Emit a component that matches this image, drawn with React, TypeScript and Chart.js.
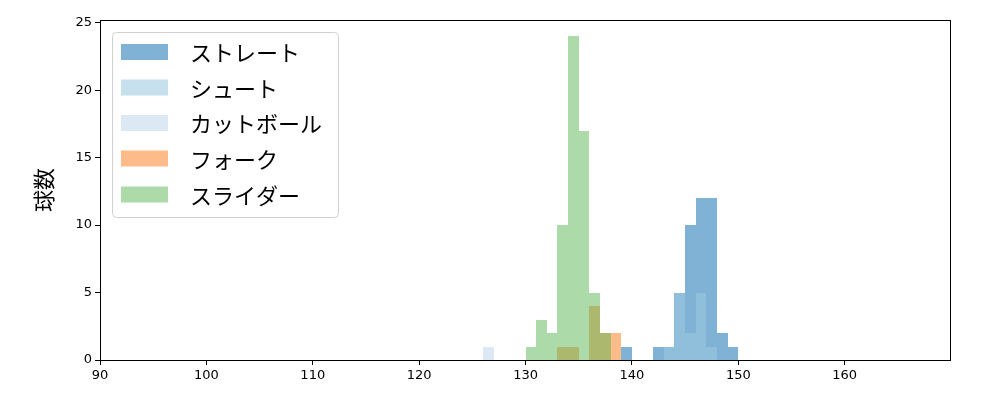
import React, { useEffect, useRef } from "react";
import { Chart, registerables } from "chart.js";

Chart.register(...registerables);

// Histogram bins (left edge of each 1 km/h bin) and counts per pitch type
const seriesLabels = ["ストレート", "シュート", "カットボール", "フォーク", "スライダー"];
const straightBins = [139, 142, 143, 144, 145, 146, 147, 148, 149];
const straightCounts = [1, 1, 1, 5, 10, 12, 12, 2, 1];
const shootBins = [143, 144, 145, 146, 147];
const shootCounts = [1, 5, 2, 5, 1];
const cutBins = [126];
const cutCounts = [1];
const forkBins = [133, 134, 136, 137, 138];
const forkCounts = [1, 1, 4, 2, 2];
const sliderBins = [130, 131, 132, 133, 134, 135, 136, 137];
const sliderCounts = [1, 3, 2, 10, 24, 17, 5, 2];
const xTickValues = [90, 100, 110, 120, 130, 140, 150, 160];
const yTickValues = [0, 5, 10, 15, 20, 25];
const seriesColors = [
  "rgba(1,101,173,0.5)",
  "rgba(157,202,226,0.58)",
  "rgba(185,209,231,0.5)",
  "rgba(251,119,21,0.5)",
  "rgba(89,181,83,0.5)",
];
const yTitle = "球数";
const xMin = 90;
const xMax = 169.9;
const yMax = 25.2;

const CJK = '"Noto Sans CJK JP", "Noto Sans", sans-serif';

const toPoints = (bins: number[], counts: number[]) =>
  bins.map((b, i) => ({ x: b + 0.5, y: counts[i] }));

// snap bar edges to whole pixels so adjacent translucent bars do not leave seams
const snapPlugin = {
  id: "snapBars",
  afterDatasetsUpdate(chart: any) {
    chart.data.datasets.forEach((_: any, di: number) => {
      const meta = chart.getDatasetMeta(di);
      meta.data.forEach((el: any) => {
        const l = Math.round(el.x - el.width / 2);
        const r = Math.round(el.x + el.width / 2);
        el.x = (l + r) / 2;
        el.width = r - l;
        el.y = Math.round(el.y);
        el.base = Math.round(el.base);
      });
    });
  },
};

const framePlugin = {
  id: "frameAndLegend",
  afterDraw(chart: any) {
    const { ctx, chartArea } = chart;
    const { left, right, top, bottom } = chartArea;
    ctx.save();
    // frame
    ctx.strokeStyle = "#000";
    ctx.lineWidth = 1;
    ctx.strokeRect(left + 0.5, top + 0.5, right - left, bottom - top);
    // y title
    ctx.save();
    ctx.translate(44, (top + bottom) / 2);
    ctx.rotate(-Math.PI / 2);
    ctx.font = `22px ${CJK}`;
    ctx.fillStyle = "#000";
    ctx.textAlign = "center";
    ctx.textBaseline = "middle";
    ctx.fillText(yTitle, 0, 0);
    ctx.restore();
    // legend
    const bx = 112.5, by = 32.5, bw = 226, bh = 185, r = 4;
    ctx.beginPath();
    ctx.moveTo(bx + r, by);
    ctx.lineTo(bx + bw - r, by);
    ctx.quadraticCurveTo(bx + bw, by, bx + bw, by + r);
    ctx.lineTo(bx + bw, by + bh - r);
    ctx.quadraticCurveTo(bx + bw, by + bh, bx + bw - r, by + bh);
    ctx.lineTo(bx + r, by + bh);
    ctx.quadraticCurveTo(bx, by + bh, bx, by + bh - r);
    ctx.lineTo(bx, by + r);
    ctx.quadraticCurveTo(bx, by, bx + r, by);
    ctx.closePath();
    ctx.fillStyle = "rgba(255,255,255,0.8)";
    ctx.fill();
    ctx.strokeStyle = "#d0d0d0";
    ctx.stroke();
    const rowY = [52, 87.5, 123, 158.5, 194.5];
    ctx.font = `22px ${CJK}`;
    ctx.textBaseline = "middle";
    ctx.textAlign = "left";
    seriesLabels.forEach((lab, i) => {
      ctx.fillStyle = seriesColors[i];
      ctx.fillRect(121, rowY[i] - 8, 47, 16);
      ctx.fillStyle = "#000";
      ctx.fillText(lab, 190, rowY[i] + 1);
    });
    ctx.restore();
  },
};

export default function App() {
  const ref = useRef<HTMLCanvasElement>(null);
  useEffect(() => {
    document.body.style.margin = "0";
    const datasets = [
      { data: toPoints(straightBins, straightCounts), order: 4 },
      { data: toPoints(shootBins, shootCounts), order: 3 },
      { data: toPoints(cutBins, cutCounts), order: 2 },
      { data: toPoints(forkBins, forkCounts), order: 1 },
      { data: toPoints(sliderBins, sliderCounts), order: 0 },
    ].map((d, i) => ({
      type: "bar" as const,
      label: seriesLabels[i],
      data: d.data,
      order: d.order,
      backgroundColor: seriesColors[i],
      borderWidth: 0,
      inflateAmount: 0,
      grouped: false,
      barPercentage: 1,
      categoryPercentage: 1,
    }));
    const chart = new Chart(ref.current!, {
      type: "bar",
      data: { datasets: datasets as any },
      options: {
        animation: false,
        responsive: false,
        maintainAspectRatio: false,
        layout: { padding: { left: 0, right: 50, top: 20, bottom: 0 } },
        plugins: { legend: { display: false }, tooltip: { enabled: false } },
        scales: {
          x: {
            type: "linear",
            min: xMin,
            max: xMax,
            offset: false,
            afterBuildTicks: (s: any) => {
              s.ticks = xTickValues.map((v) => ({ value: v }));
            },
            afterFit: (s: any) => {
              s.height = 40;
            },
            ticks: {
              color: "#000",
              padding: 3,
              maxRotation: 0,
              autoSkip: false,
              callback: (v: any) => String(v),
              font: { family: "DejaVu Sans", size: 13 },
            },
            grid: { offset: false, drawOnChartArea: false, drawTicks: true, tickLength: 5, color: "#000" },
            border: { display: true, color: "#000" },
          },
          y: {
            type: "linear",
            min: 0,
            max: yMax,
            afterBuildTicks: (s: any) => {
              s.ticks = yTickValues.map((v) => ({ value: v }));
            },
            afterFit: (s: any) => {
              s.width = 100;
            },
            ticks: {
              color: "#000",
              padding: 3,
              autoSkip: false,
              callback: (v: any) => String(v),
              font: { family: "DejaVu Sans", size: 13 },
            },
            grid: { offset: false, drawOnChartArea: false, drawTicks: true, tickLength: 5, color: "#000" },
            border: { display: true, color: "#000" },
          },
        },
      },
      plugins: [snapPlugin, framePlugin],
    });
    return () => chart.destroy();
  }, []);
  return (
    <div style={{ position: "absolute", left: 0, top: 0, width: 1000, height: 400 }}>
      <canvas ref={ref} width={1000} height={400} style={{ width: 1000, height: 400 }} />
    </div>
  );
}
